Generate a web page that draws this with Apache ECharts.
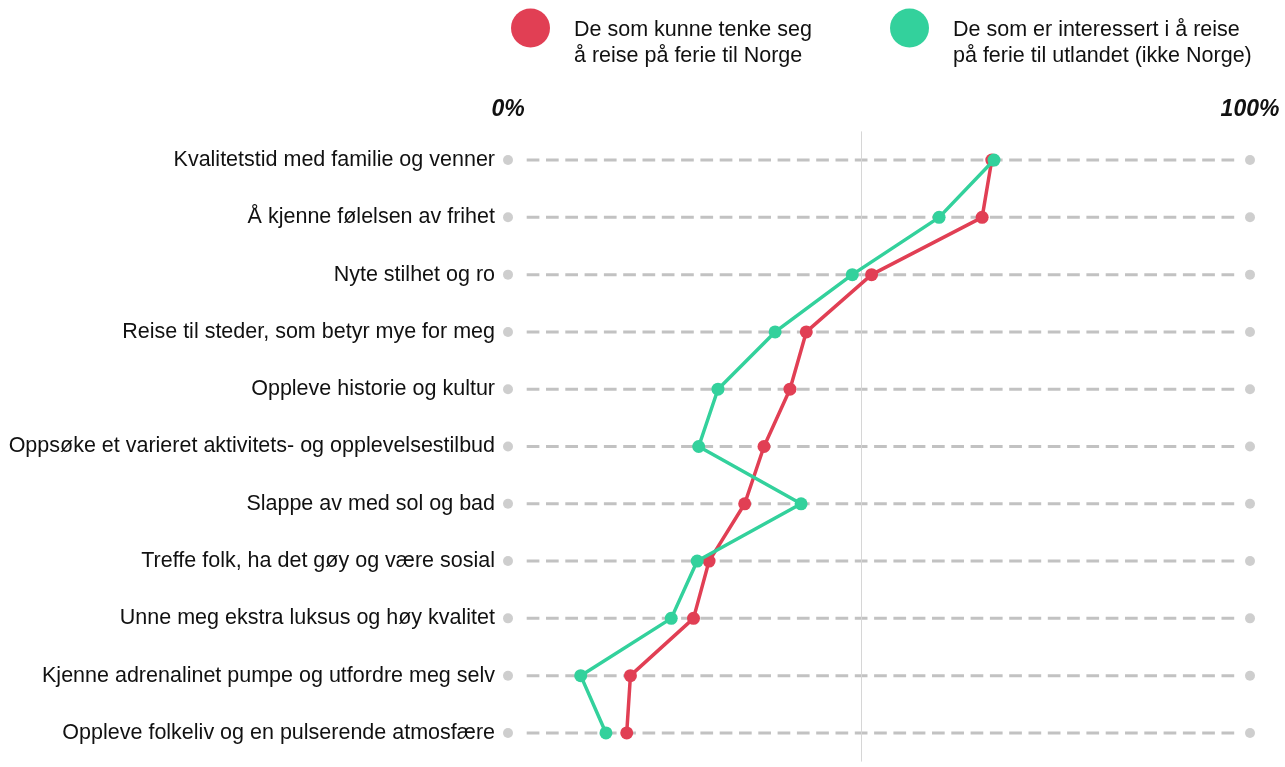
<!DOCTYPE html>
<html>
<head>
<meta charset="utf-8">
<script src="https://cdn.jsdelivr.net/npm/echarts@6/dist/echarts.min.js"></script>
<style>
html,body{margin:0;padding:0;background:#fff;}
#chart{width:1285px;height:767px;}
</style>
</head>
<body>
<div id="chart"></div>
<script>
const categories = [
  'Kvalitetstid med familie og venner',
  'Å kjenne følelsen av frihet',
  'Nyte stilhet og ro',
  'Reise til steder, som betyr mye for meg',
  'Oppleve historie og kultur',
  'Oppsøke et varieret aktivitets- og opplevelsestilbud',
  'Slappe av med sol og bad',
  'Treffe folk, ha det gøy og være sosial',
  'Unne meg ekstra luksus og høy kvalitet',
  'Kjenne adrenalinet pumpe og utfordre meg selv',
  'Oppleve folkeliv og en pulserende atmosfære'
];
const seriesNames = [
  'De som kunne tenke seg\nå reise på ferie til Norge',
  'De som er interessert i å reise\npå ferie til utlandet (ikke Norge)'
];
const norgeValues = [65.2, 63.9, 49.0, 40.2, 38.0, 34.5, 31.9, 27.1, 25.0, 16.5, 16.0];
const utlandValues = [65.5, 58.1, 46.4, 36.0, 28.3, 25.7, 39.5, 25.5, 22.0, 9.8, 13.2];
const axisMin = 0, axisMax = 100;
const referenceLine = 47.6;

const RED = '#E13F54';
const GREEN = '#33D19C';
const GRAY = '#c2c2c2';
const FONT = '"Liberation Sans", Arial, sans-serif';

const chart = echarts.init(document.getElementById('chart'));

const legendCommon = {
  orient: 'horizontal',
  icon: 'circle',
  itemWidth: 39,
  itemHeight: 39,
  itemGap: 19,
  padding: 0,
  top: -13,
  selectedMode: false,
  formatter: name => '{s| }\n' + name.split('\n').map(l => '{a|' + l + '}').join('\n'),
  textStyle: {
    fontFamily: FONT, fontSize: 21.5, color: '#111',
    rich: {
      s: {height: 30, lineHeight: 30, fontSize: 10},
      a: {fontFamily: FONT, fontSize: 21.5, lineHeight: 26, color: '#111', padding: [0, 0, 0, 19]}
    }
  }
};

const rowSeries = categories.map(c => ({
  name: 'row-' + c, type: 'line', silent: true, z: 1,
  symbol: 'none',
  lineStyle: {color: GRAY, width: 3, type: [12.7, 6.6]},
  data: [[2.52, c], [97.9, c]]
}));

option = {
  backgroundColor: '#fff',
  animation: false,
  legend: [
    Object.assign({}, legendCommon, {left: 511, data: [seriesNames[0]]}),
    Object.assign({}, legendCommon, {left: 890, data: [seriesNames[1]]})
  ],
  grid: {left: 508, right: 35, top: 131.4, bottom: 5.4, containLabel: false},
  xAxis: {
    type: 'value', position: 'top', min: axisMin, max: axisMax, interval: 100,
    axisLine: {show: false}, axisTick: {show: false}, splitLine: {show: false},
    axisLabel: {formatter: '{value}%', fontFamily: FONT, fontSize: 23, fontWeight: 'bold',
      fontStyle: 'italic', color: '#111', margin: 10}
  },
  yAxis: {
    type: 'category', data: categories, inverse: true, boundaryGap: true,
    axisLine: {show: false}, axisTick: {show: false}, splitLine: {show: false},
    axisLabel: {fontFamily: FONT, fontSize: 21.5, color: '#111', margin: 13}
  },
  series: rowSeries.concat([
    {
      name: 'row-ends', type: 'scatter', silent: true, z: 2,
      symbol: 'circle', symbolSize: 10,
      itemStyle: {color: GRAY},
      data: categories.flatMap(c => [[axisMin, c], [axisMax, c]])
    },
    {
      name: 'ref', type: 'line', silent: true, data: [], z: 1,
      markLine: {
        silent: true, symbol: ['none', 'none'], label: {show: false},
        lineStyle: {color: '#d6d6d6', width: 1, type: 'solid'},
        data: [{xAxis: referenceLine}]
      }
    },
    {
      name: seriesNames[0], type: 'line', z: 5,
      data: norgeValues.map((v, i) => [v, categories[i]]),
      symbol: 'circle', symbolSize: 13,
      lineStyle: {color: RED, width: 3.5},
      itemStyle: {color: RED}
    },
    {
      name: seriesNames[1], type: 'line', z: 6,
      data: utlandValues.map((v, i) => [v, categories[i]]),
      symbol: 'circle', symbolSize: 13,
      lineStyle: {color: GREEN, width: 3.5},
      itemStyle: {color: GREEN}
    }
  ])
};
chart.setOption(option);
</script>
</body>
</html>
